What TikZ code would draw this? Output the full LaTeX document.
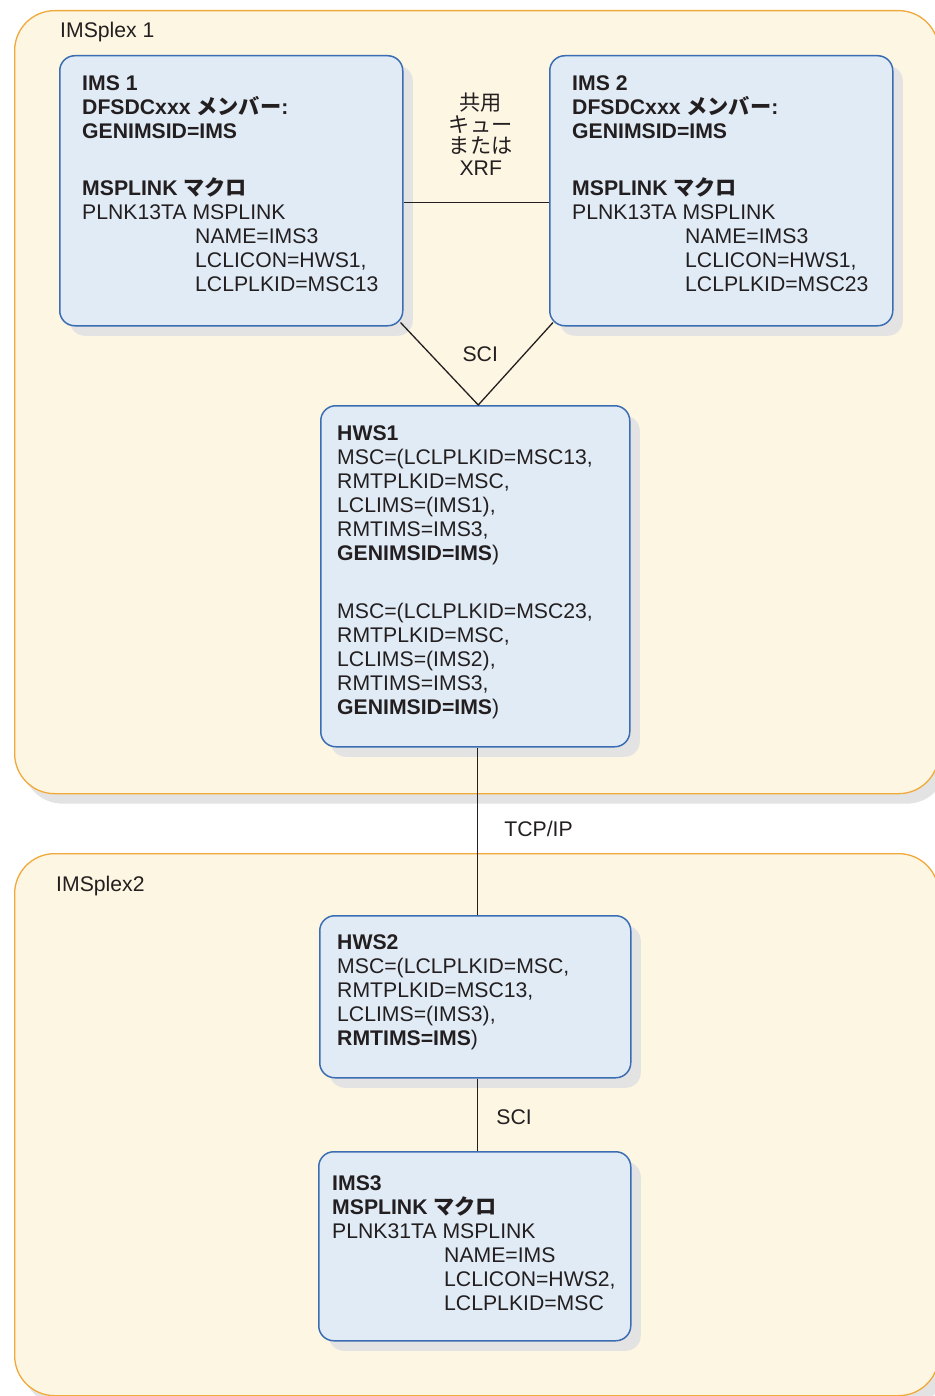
\documentclass[tikz,border=0pt]{standalone}
\usepackage{fontspec}
\setmainfont{Liberation Sans}
\newfontfamily\jpfont{Noto Sans CJK JP}
\usepackage{tikz}
\usetikzlibrary{positioning,shadows,calc}
\definecolor{plexfill}{HTML}{FDF6E3}
\definecolor{plexline}{HTML}{F0A93B}
\definecolor{sysfill}{HTML}{E1EBF5}
\definecolor{sysline}{HTML}{3B6DB3}
\definecolor{shade}{HTML}{E3E3E3}
\definecolor{ink}{HTML}{231F20}
\newcommand{\ja}[1]{{\jpfont #1}}
\tikzset{
  plex/.style={rectangle,draw=plexline,fill=plexfill,rounded corners=40pt,
    line width=1.3pt,anchor=north west,
    drop shadow={shadow xshift=8pt,shadow yshift=-10pt,fill=shade,opacity=1}},
  sys/.style={rectangle,draw=sysline,fill=sysfill,rounded corners=15pt,
    line width=1.5pt,anchor=north west,
    drop shadow={shadow xshift=10pt,shadow yshift=-10pt,fill=shade,opacity=1}},
  txt/.style={align=left,inner sep=0pt,text=ink,font=\fontsize{21.2}{24}\selectfont},
  lbl/.style={inner sep=0pt,text=ink,font=\fontsize{21.2}{24}\selectfont},
  conn/.style={draw=ink,line width=1.3pt},
}
\begin{document}
\begin{tikzpicture}[x=1pt,y=-1pt]
  \useasboundingbox[fill=white] (0,0) rectangle (934,1396);
  % IMSplex areas
  \node[plex,minimum width=924pt,minimum height=783pt] (plex1) at (14,10) {};
  \node[lbl,anchor=base west] (plex1lbl) at ($(plex1.north west)+(46,27.6)$) {IMSplex 1};
  \node[plex,minimum width=924pt,minimum height=542pt] (plex2) at (14,853) {};
  \node[lbl,anchor=base west] (plex2lbl) at ($(plex2.north west)+(42,38.6)$) {IMSplex2};

  % IMS 1 / IMS 2
  \node[sys,minimum width=343pt,minimum height=270pt] (ims1) at (59,55) {};
  \node[txt,below right=20.3pt and 23pt of ims1.north west] (ims1txt) {%
    \textbf{IMS 1}\\
    \textbf{DFSDCxxx \ja{メンバー}:}\\
    \textbf{GENIMSID=IMS}\\[33pt]
    \textbf{MSPLINK \ja{マクロ}}\\
    PLNK13TA MSPLINK\\
    \hspace*{113pt}NAME=IMS3\\
    \hspace*{113pt}LCLICON=HWS1,\\
    \hspace*{113pt}LCLPLKID=MSC13};
  \node[sys,minimum width=343pt,minimum height=270pt] (ims2) at (549,55) {};
  \node[txt,below right=20.3pt and 23pt of ims2.north west] (ims2txt) {%
    \textbf{IMS 2}\\
    \textbf{DFSDCxxx \ja{メンバー}:}\\
    \textbf{GENIMSID=IMS}\\[33pt]
    \textbf{MSPLINK \ja{マクロ}}\\
    PLNK13TA MSPLINK\\
    \hspace*{113pt}NAME=IMS3\\
    \hspace*{113pt}LCLICON=HWS1,\\
    \hspace*{113pt}LCLPLKID=MSC23};

  % HWS1
  \node[sys,minimum width=309pt,minimum height=341pt] (hws1) at (320,405) {};
  \node[txt,below right=20.4pt and 17pt of hws1.north west] (hws1txt) {%
    \textbf{HWS1}\\
    MSC=(LCLPLKID=MSC13,\\
    RMTPLKID=MSC,\\
    LCLIMS=(IMS1),\\
    RMTIMS=IMS3,\\
    \textbf{GENIMSID=IMS})\\[34pt]
    MSC=(LCLPLKID=MSC23,\\
    RMTPLKID=MSC,\\
    LCLIMS=(IMS2),\\
    RMTIMS=IMS3,\\
    \textbf{GENIMSID=IMS})};

  % HWS2 / IMS3
  \node[sys,minimum width=311pt,minimum height=162pt] (hws2) at (319,915) {};
  \node[txt,below right=19.4pt and 18pt of hws2.north west] (hws2txt) {%
    \textbf{HWS2}\\
    MSC=(LCLPLKID=MSC,\\
    RMTPLKID=MSC13,\\
    LCLIMS=(IMS3),\\
    \textbf{RMTIMS=IMS})};
  \node[sys,minimum width=312pt,minimum height=189pt] (ims3) at (318,1151) {};
  \node[txt,below right=24.4pt and 14pt of ims3.north west] (ims3txt) {%
    \textbf{IMS3}\\
    \textbf{MSPLINK \ja{マクロ}}\\
    PLNK31TA MSPLINK\\
    \hspace*{112pt}NAME=IMS\\
    \hspace*{112pt}LCLICON=HWS2,\\
    \hspace*{112pt}LCLPLKID=MSC};

  % links
  \draw[conn] ($(ims1.east)+(0,12)$) -- ($(ims2.west)+(0,12)$)
    node[midway,lbl,above=26.5pt,xshift=4.5pt,align=center,
      font=\fontsize{21.2}{21.7}\selectfont] (shareq)
      {\ja{共用}\\\ja{キュー}\\\ja{または}\\XRF};
  \draw[conn] ($(ims1.south east)+(-3,-4)$) -- ($(hws1.north)+(3,0)$)
    -- ($(ims2.south west)+(4,-4)$);
  \node[lbl,above=43.5pt of hws1.north,xshift=5pt] (sci1) {SCI};
  \coordinate (hws1out) at ($(hws1.south)+(2.5,0)$);
  \coordinate (hws2out) at ($(hws2.south)+(2.5,0)$);
  \draw[conn] (hws1out) -- (hws1out |- hws2.north)
    node[midway,lbl,right=26pt,yshift=2.5pt] (tcpip) {TCP/IP};
  \draw[conn] (hws2out) -- (hws2out |- ims3.north)
    node[midway,lbl,right=18pt,yshift=-2pt] (sci2) {SCI};
\end{tikzpicture}
\end{document}
